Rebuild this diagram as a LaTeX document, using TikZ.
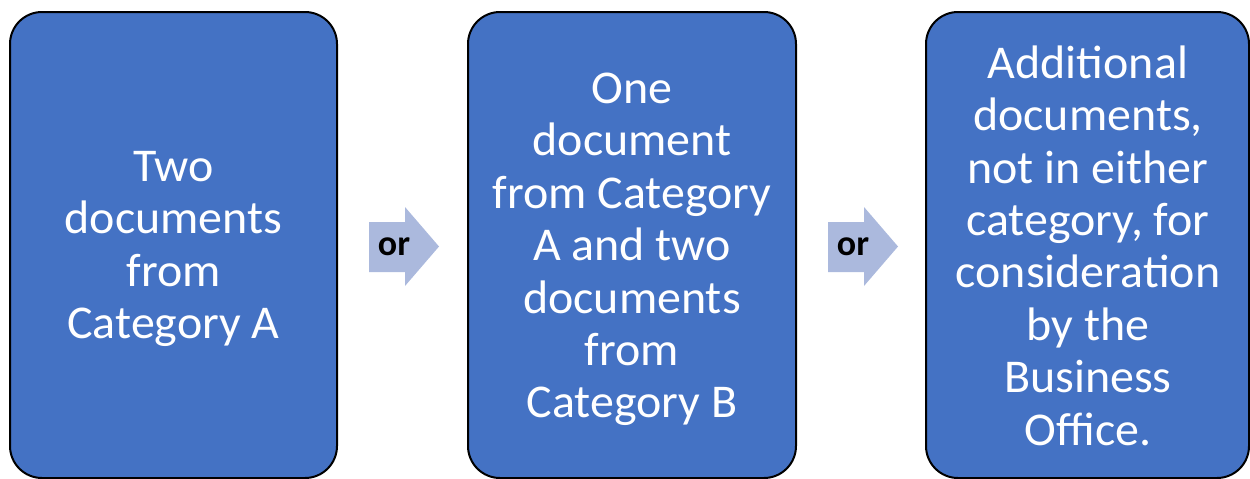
\documentclass[tikz,border=0pt]{standalone}
\usepackage{fontspec}
\setmainfont{Carlito}
\newfontfamily\boxfont[FakeStretch=1.02]{Carlito}
\definecolor{boxblue}{HTML}{4472C4}
\definecolor{arrowblue}{RGB}{171,185,221}
\begin{document}
\begin{tikzpicture}[x=1pt,y=-1pt,
  bluebox/.style={draw=black,line width=2pt,fill=boxblue,rounded corners=32pt},
  boxtext/.style={text=white,align=center,font=\boxfont\fontsize{47}{52.4}\selectfont,inner sep=0pt},
  orlabel/.style={font=\fontsize{36}{40}\selectfont\bfseries,text=black,inner sep=0pt},
  arrowshape/.style={fill=arrowblue}]
\useasboundingbox (0,0) rectangle (1250,479);
\draw[bluebox] (10,12) rectangle (337,478);
\draw[bluebox] (468,12) rectangle (796,478);
\draw[bluebox] (926,12) rectangle (1249,478);
\node[boxtext] (b1) at (173.5,249) {Two\\documents\\from\\Category A};
\node[boxtext] (b2) at (632,249.5) {One\\document\\from Category\\A and two\\documents\\from\\Category B};
\node[boxtext] (b3) at (1088,245.5) {Additional\\documents,\\not in either\\category, for\\consideration\\by the\\Business\\Office.};
\fill[arrowshape] (369,222) -- (405,222) -- (405,207) -- (439,246.5) -- (405,286) -- (405,272) -- (369,272) -- cycle;
\fill[arrowshape] (828,222) -- (864,222) -- (864,207) -- (898,246.5) -- (864,286) -- (864,272) -- (828,272) -- cycle;
\node[orlabel] (or1) at (394,247) {or};
\node[orlabel] (or2) at (853,247) {or};
\end{tikzpicture}
\end{document}
